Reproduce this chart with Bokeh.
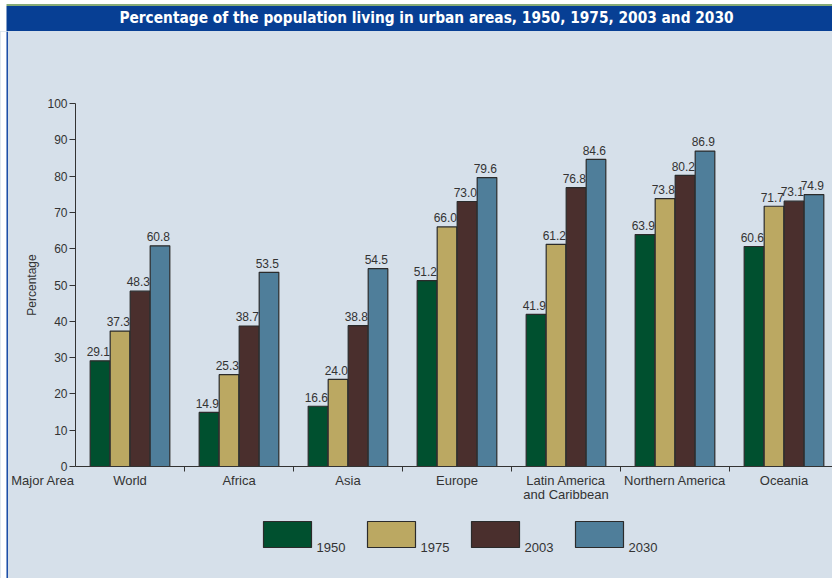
from bokeh.plotting import figure
from bokeh.layouts import column, row
from bokeh.models import Range1d, FixedTicker, ColumnDataSource
from bokeh.core.properties import value
from bokeh.embed import file_html
from bokeh.resources import INLINE

# ---- data -------------------------------------------------------------
areas = ["World", "Africa", "Asia", "Europe", "Latin America\nand Caribbean",
         "Northern America", "Oceania"]
years = ["1950", "1975", "2003", "2030"]
pct_1950 = [29.1, 14.9, 16.6, 51.2, 41.9, 63.9, 60.6]
pct_1975 = [37.3, 25.3, 24.0, 66.0, 61.2, 73.8, 71.7]
pct_2003 = [48.3, 38.7, 38.8, 73.0, 76.8, 80.2, 73.1]
pct_2030 = [60.8, 53.5, 54.5, 79.6, 84.6, 86.9, 74.9]
y_ticks = [0, 10, 20, 30, 40, 50, 60, 70, 80, 90, 100]

title_text = "Percentage of the population living in urban areas, 1950, 1975, 2003 and 2030"
x_axis_name = "Major Area"

# ---- style ------------------------------------------------------------
BG = "#d6e0ea"
TITLE_BLUE = "#073f94"
EDGE_GREEN = "#86ab76"
TEXT = "#333333"
OUTLINE = "#2b2b2b"
colors = ["#00502f", "#bba862", "#4a2f2d", "#4f7e9a"]
FONT = value("Liberation Sans")

series = [pct_1950, pct_1975, pct_2003, pct_2030]
step = 0.1835
offsets = [-1.5 * step, -0.5 * step, 0.5 * step, 1.5 * step]
bar_w = 0.18


def blank(width, height, x_end, y_start, y_end, fill):
    """A plain drawing surface without axes, used for decorations."""
    f = figure(width=width, height=height, x_range=Range1d(0, x_end),
               y_range=Range1d(y_start, y_end), x_axis_location=None,
               y_axis_location=None, min_border=0, toolbar_location=None,
               output_backend="svg")
    f.background_fill_color = fill
    f.border_fill_color = fill
    f.outline_line_color = None
    f.grid.visible = False
    return f


# ---- title bar ----------------------------------------------------------
W = 832
tfig = blank(W, 31, W, 31, 0, "white")
tfig.quad(left=[6], right=[W], top=[3.5], bottom=[5.5], fill_color=EDGE_GREEN, line_color=None)
tfig.quad(left=[6], right=[W], top=[5.5], bottom=[31], fill_color=TITLE_BLUE, line_color=None)
tfig.text(x=[426], y=[17.5], text=[title_text], text_font=value("DejaVu Sans Condensed"),
          text_font_style="bold", text_font_size="15.3px", text_color="white",
          text_align="center", text_baseline="middle")

# ---- left edge strip ----------------------------------------------------
H_BODY = 547
sfig = blank(8, H_BODY, 8, 0, H_BODY, BG)
sfig.quad(left=[0], right=[6], top=[H_BODY], bottom=[0], fill_color="white", line_color=None)
sfig.quad(left=[6], right=[7.5], top=[H_BODY], bottom=[0], fill_color="#1d4ea8", line_color=None)

# ---- main chart ---------------------------------------------------------
n = len(areas)
p = figure(frame_width=757, frame_height=363,
           x_range=Range1d(0, 6.945), y_range=Range1d(0, 100),
           min_border_left=67, min_border_right=0, min_border_top=72, min_border_bottom=44,
           toolbar_location=None, output_backend="svg")
p.background_fill_color = BG
p.border_fill_color = BG
p.outline_line_color = None
p.grid.visible = False

centers = [i + 0.5 for i in range(n)]
for vals, off, col in zip(series, offsets, colors):
    xs = [c + off for c in centers]
    src = ColumnDataSource(dict(x=xs, top=vals,
                                lx=[x - 0.015 for x in xs],
                                ly=[v + 1.3 for v in vals],
                                txt=[f"{v:.1f}" for v in vals]))
    p.vbar(x="x", top="top", bottom=0, width=bar_w, source=src,
           fill_color=col, line_color=OUTLINE, line_width=1.2)
    p.text(x="lx", y="ly", text="txt", source=src, text_font=FONT,
           text_font_size="12px", text_color=TEXT, text_align="center",
           text_baseline="bottom")

# y axis
ya = p.yaxis[0]
ya.ticker = FixedTicker(ticks=y_ticks)
ya.axis_label = "Percentage"
ya.axis_label_text_font = "Liberation Sans"
ya.axis_label_text_font_style = "normal"
ya.axis_label_text_font_size = "12px"
ya.axis_label_text_color = TEXT
ya.axis_label_standoff = 5
ya.major_label_text_font = "Liberation Sans"
ya.major_label_text_font_size = "12px"
ya.major_label_text_color = TEXT
ya.major_label_standoff = 2
ya.major_tick_out = 6
ya.major_tick_in = 0
ya.minor_tick_out = 0
ya.minor_tick_in = 0
ya.axis_line_color = TEXT
ya.major_tick_line_color = TEXT

# x axis: area names at group centres, tick marks between groups; the
# axis name sits at the origin, padded so it ends at the value axis
xa = p.xaxis[0]
xa.ticker = FixedTicker(ticks=[0.0] + centers, minor_ticks=[float(i) for i in range(1, n)])
overrides = {c: a for c, a in zip(centers, areas)}
overrides[0.0] = x_axis_name + "\u00a0" * 18
xa.major_label_overrides = overrides
xa.major_label_text_font = "Liberation Sans"
xa.major_label_text_font_size = "13px"
xa.major_label_text_color = TEXT
xa.major_label_text_line_height = 0.95
xa.major_label_standoff = 1
xa.major_tick_out = 0
xa.major_tick_in = 0
xa.minor_tick_out = 5
xa.minor_tick_in = 0
xa.axis_line_color = TEXT
xa.minor_tick_line_color = TEXT

# ---- legend strip -------------------------------------------------------
lfig = blank(824, 68, 824, 68, 0, BG)
box_left = [255 + 104 * i for i in range(len(years))]
lsrc = ColumnDataSource(dict(left=box_left, right=[b + 48 for b in box_left],
                             tx=[b + 53 for b in box_left], year=years, color=colors))
lfig.quad(left="left", right="right", top=11, bottom=37, fill_color="color",
          line_color=OUTLINE, line_width=1.2, source=lsrc)
lfig.text(x="tx", y=37, text="year", source=lsrc, text_font=FONT, text_font_size="13px",
          text_color=TEXT, text_align="left", text_baseline="alphabetic")

# each plot sits in its own column so their frames are laid out independently;
# the containers share the panel colour so no seams show between them
bg_style = {"background-color": BG}
body = column(column(p, styles=bg_style), column(lfig, styles=bg_style), styles=bg_style)
layout = column(tfig, row(column(sfig, styles=bg_style), body, styles=bg_style))

open("out.html", "w").write(file_html(layout, INLINE))
